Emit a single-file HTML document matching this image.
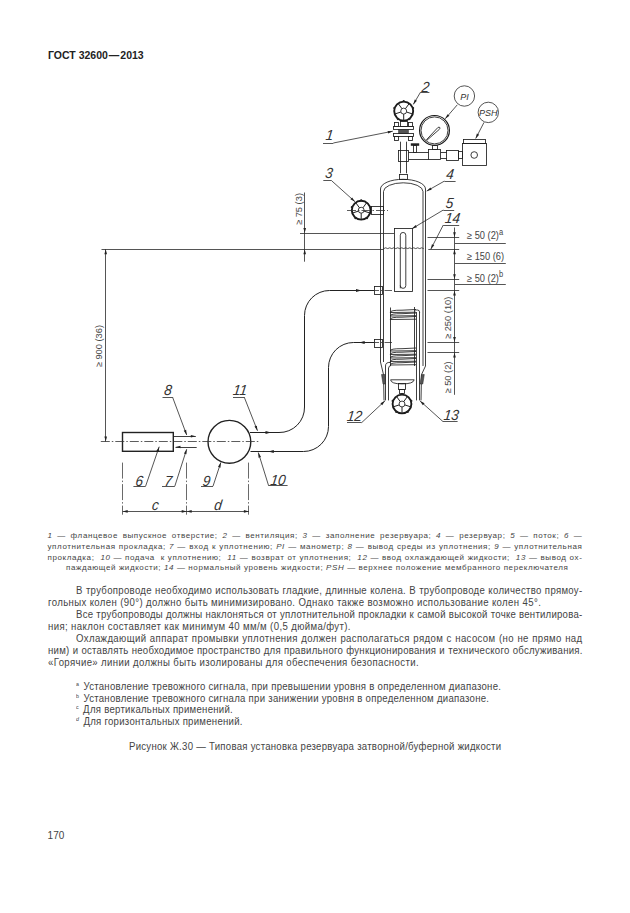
<!DOCTYPE html>
<html><head><meta charset="utf-8"><style>
html,body{margin:0;padding:0;background:#fff;}
body{width:630px;height:913px;position:relative;overflow:hidden;font-family:"Liberation Sans",sans-serif;color:#444;}
svg{position:absolute;left:0;top:0;}
.t{stroke:#2a2a2a;stroke-width:0.8;fill:none;}
.m{stroke:#1e1e1e;stroke-width:0.85;fill:none;}
.m2{stroke:#222;stroke-width:1.3;fill:none;}
.p{stroke:#222;stroke-width:1;fill:none;}
.wr{stroke:#1a1a1a;stroke-width:1.9;fill:none;}
.ws{stroke:#222;stroke-width:1.0;fill:none;}
.wr2{stroke:#1a1a1a;stroke-width:1.2;fill:none;}
.k{stroke:#222;stroke-width:1.4;fill:none;}
.f{fill:#222;stroke:none;}
.f2{fill:#555;stroke:#222;stroke-width:0.5;}
.cl{stroke:#333;stroke-width:0.8;fill:none;stroke-dasharray:9 2 1.5 2;}
.cl2{stroke:#444;stroke-width:0.8;fill:none;stroke-dasharray:16 2 1.5 2;}
.ah{fill:#222;stroke:none;}
.lb{font-family:"Liberation Sans",sans-serif;font-style:italic;font-size:13.6px;fill:#333;}
.bt{font-family:"Liberation Sans",sans-serif;font-style:italic;font-size:9px;fill:#333;}
.dt{font-family:"Liberation Sans",sans-serif;font-size:9.3px;fill:#444;}
.sup{font-size:7.5px;}
.ln{position:absolute;white-space:nowrap;}
.j{text-align:justify;text-align-last:justify;white-space:normal;}
.leg{font-size:8px;line-height:10.5px;height:10.5px;letter-spacing:0.6px;}
.bd{font-size:10px;line-height:11.9px;height:11.9px;letter-spacing:0.39px;transform:scaleX(0.96);transform-origin:0 0;}
.fn{font-size:10px;line-height:11.7px;height:11.7px;letter-spacing:0.28px;transform:scaleX(0.96);transform-origin:0 0;}
i{font-style:italic;}
sup{font-size:5.5px;vertical-align:0;position:relative;top:-4px;letter-spacing:0;margin-right:1.6px;}
</style></head><body>
<div class="ln" style="left:48px;top:49px;font-size:10.5px;font-weight:bold;color:#222;">ГОСТ 32600<span style="margin:0 1px">—</span>2013</div>
<svg width="630" height="913" viewBox="0 0 630 913">
<text transform="translate(325.3 140) skewX(-7) scale(1 1.08)" class="lb">1</text>
<line x1="323.0" y1="143.5" x2="333.3" y2="143.5" class="t"/>
<line x1="333.3" y1="143" x2="392.8" y2="131.2" class="t"/><path d="M392.80 131.20L388.15 133.45L387.64 130.90Z" class="ah"/>
<text transform="translate(421.2 91.7) skewX(-7) scale(1 1.08)" class="lb">2</text>
<line x1="420.5" y1="92.5" x2="429.4" y2="92.5" class="t"/>
<line x1="420.5" y1="92.2" x2="413.3" y2="104.4" class="t"/><path d="M413.30 104.40L414.72 99.43L416.96 100.75Z" class="ah"/>
<text transform="translate(324.8 178.3) skewX(-7) scale(1 1.08)" class="lb">3</text>
<line x1="323.3" y1="180.5" x2="331.7" y2="180.5" class="t"/>
<line x1="331.7" y1="180.8" x2="355" y2="201.7" class="t"/><path d="M355.00 201.70L350.41 199.33L352.15 197.39Z" class="ah"/>
<text transform="translate(445.8 179.2) skewX(-7) scale(1 1.08)" class="lb">4</text>
<line x1="444.4" y1="181.5" x2="455.6" y2="181.5" class="t"/>
<line x1="444.4" y1="181.1" x2="426.7" y2="191.1" class="t"/><path d="M426.70 191.10L430.41 187.51L431.69 189.77Z" class="ah"/>
<text transform="translate(445.3 207.5) skewX(-7) scale(1 1.08)" class="lb">5</text>
<line x1="443.3" y1="210.5" x2="454.2" y2="210.5" class="t"/>
<line x1="443.3" y1="210" x2="412" y2="228.7" class="t"/><path d="M412.00 228.70L415.63 225.02L416.96 227.25Z" class="ah"/>
<text transform="translate(444.5 223.3) skewX(-7) scale(1 1.08)" class="lb">14</text>
<line x1="443.3" y1="225.5" x2="459.2" y2="225.5" class="t"/>
<line x1="443.3" y1="225" x2="430.8" y2="249.2" class="t"/><path d="M430.80 249.20L431.94 244.16L434.25 245.35Z" class="ah"/>
<text transform="translate(134.9 485.5) skewX(-7) scale(1 1.08)" class="lb">6</text>
<line x1="133.4" y1="486.5" x2="145.6" y2="486.5" class="t"/>
<line x1="145.6" y1="486.2" x2="159.2" y2="446.7" class="t"/><path d="M159.20 446.70L158.80 451.85L156.34 451.00Z" class="ah"/>
<text transform="translate(164.1 485.5) skewX(-7) scale(1 1.08)" class="lb">7</text>
<line x1="162.0" y1="486.5" x2="174.8" y2="486.5" class="t"/>
<line x1="174.8" y1="486.2" x2="186.7" y2="449.2" class="t"/><path d="M186.70 449.20L186.41 454.36L183.93 453.56Z" class="ah"/>
<text transform="translate(163.7 395) skewX(-7) scale(1 1.08)" class="lb">8</text>
<line x1="162.5" y1="397.5" x2="172.5" y2="397.5" class="t"/>
<line x1="172.5" y1="397" x2="186.7" y2="435" class="t"/><path d="M186.70 435.00L183.73 430.77L186.17 429.86Z" class="ah"/>
<text transform="translate(202.2 485.5) skewX(-7) scale(1 1.08)" class="lb">9</text>
<line x1="201.0" y1="486.5" x2="213.0" y2="486.5" class="t"/>
<line x1="213.0" y1="486.2" x2="220.8" y2="462.5" class="t"/><path d="M220.80 462.50L220.47 467.66L218.00 466.84Z" class="ah"/>
<text transform="translate(270.0 484.6) skewX(-7) scale(1 1.08)" class="lb">10</text>
<line x1="268.6" y1="485.5" x2="287.6" y2="485.5" class="t"/>
<line x1="268.6" y1="485.7" x2="258.3" y2="452.5" class="t"/><path d="M258.30 452.50L261.02 456.89L258.54 457.66Z" class="ah"/>
<text transform="translate(232.5 395) skewX(-7) scale(1 1.08)" class="lb">11</text>
<line x1="233.0" y1="397.5" x2="244.2" y2="397.5" class="t"/>
<line x1="244.2" y1="397" x2="257.5" y2="430.8" class="t"/><path d="M257.50 430.80L254.46 426.62L256.88 425.67Z" class="ah"/>
<text transform="translate(346.5 421) skewX(-7) scale(1 1.08)" class="lb">12</text>
<line x1="347.0" y1="422.5" x2="361.7" y2="422.5" class="t"/>
<line x1="361.7" y1="422.6" x2="385" y2="400.8" class="t"/><path d="M385.00 400.80L382.24 405.17L380.46 403.27Z" class="ah"/>
<text transform="translate(443.3 420.1) skewX(-7) scale(1 1.08)" class="lb">13</text>
<line x1="443.0" y1="421.5" x2="457.6" y2="421.5" class="t"/>
<line x1="443.0" y1="421.6" x2="420" y2="400.9" class="t"/><path d="M420.00 400.90L424.59 403.28L422.85 405.21Z" class="ah"/>
<circle cx="464.4" cy="96" r="10.2" class="t"/>
<text x="464.4" y="99.6" class="bt" text-anchor="middle">PI</text>
<line x1="457.3" y1="104.8" x2="445.2" y2="118.8" class="t"/><path d="M445.20 118.80L447.49 114.17L449.45 115.87Z" class="ah"/>
<circle cx="488.3" cy="112.4" r="10.2" class="t"/>
<text x="488.3" y="116" class="bt" text-anchor="middle">PSH</text>
<line x1="484" y1="122.4" x2="475.7" y2="138.5" class="t"/><path d="M475.70 138.50L476.84 133.46L479.15 134.65Z" class="ah"/>
<path class="m" d="M380.5 362 L380.5 189 A22.5 9.7 0 0 1 425.5 189 L425.5 366"/>
<path class="m" d="M383.5 362 L383.5 191.5 A19.75 8.7 0 0 1 423 191.5 L423 366"/>
<path class="m" d="M380.5 362 L383.5 374.6 L384 400.4"/>
<path class="m" d="M425.5 366 L421.5 374.6 L421 400.4"/>
<rect x="399.5" y="174.5" width="8.0" height="5.0" class="m"/>
<line x1="400.5" y1="141.7" x2="400.5" y2="173.3" class="m"/>
<line x1="406.5" y1="141.7" x2="406.5" y2="173.3" class="m"/>
<rect x="398.5" y="150.5" width="10.0" height="11.0" class="m"/>
<line x1="408.5" y1="152.5" x2="428.7" y2="152.5" class="m"/>
<line x1="408.5" y1="159.5" x2="428.7" y2="159.5" class="m"/>
<rect x="428.5" y="149.5" width="12.0" height="10.0" class="m"/>
<line x1="440.8" y1="152.5" x2="446.7" y2="152.5" class="m"/>
<line x1="440.8" y1="158.5" x2="446.7" y2="158.5" class="m"/>
<rect x="446.5" y="150.5" width="12.0" height="10.0" class="m"/>
<rect x="458.5" y="151.5" width="4.0" height="7.0" class="m"/>
<rect x="410.8" y="143.3" width="8.4" height="2.5" class="f"/>
<rect x="413.5" y="145.5" width="3.0" height="7.0" class="m"/>
<rect x="462.5" y="143.5" width="24.0" height="22.0" class="m"/>
<rect x="463.5" y="139.5" width="22.0" height="4.0" class="m"/>
<circle cx="474.2" cy="155" r="3.3" class="m"/>
<circle cx="434.5" cy="130.4" r="14.9" class="wr2"/>
<circle cx="434.5" cy="130.4" r="13.5" class="m"/>
<path d="M426.4 139.8 L437.8 127.6 Q439.2 126.6 439.9 127.6 Q440.1 128.6 439.3 129.4 L426.8 140.3Z" class="m"/>
<rect x="432.5" y="145.5" width="5.0" height="4.0" class="m"/>
<rect x="393.5" y="126.5" width="20.0" height="3.0" class="m"/>
<rect x="398.6" y="129.7" width="9.8" height="3.7" class="f2"/>
<rect x="393.5" y="133.5" width="20.0" height="3.0" class="m"/>
<rect x="394.5" y="122.5" width="4.0" height="4.0" class="m"/>
<rect x="394.5" y="136.5" width="4.0" height="4.0" class="m"/>
<rect x="408.5" y="122.5" width="4.0" height="4.0" class="m"/>
<rect x="408.5" y="136.5" width="4.0" height="4.0" class="m"/>
<rect x="400.5" y="121.5" width="7.0" height="5.0" class="m"/>
<circle cx="403.7" cy="111.1" r="9.5" class="wr"/><circle cx="403.7" cy="111.1" r="2.97" class="m"/><line x1="403.7" y1="114.07" x2="403.7" y2="121.0" class="ws"/><circle cx="397.8809260023045" cy="119.10926824431198" r="1.1" class="f"/><line x1="400.8753621466034" y1="112.01778047329358" x2="394.284540488678" y2="114.15926824431197" class="ws"/><circle cx="394.284540488678" cy="108.04073175568801" r="1.1" class="f"/><line x1="401.95427780069133" y1="108.6972195267064" x2="397.8809260023045" y2="103.09073175568801" class="ws"/><circle cx="403.7" cy="101.19999999999999" r="1.1" class="f"/><line x1="405.44572219930865" y1="108.6972195267064" x2="409.51907399769544" y2="103.09073175568801" class="ws"/><circle cx="413.115459511322" cy="108.04073175568801" r="1.1" class="f"/><line x1="406.5246378533966" y1="112.01778047329358" x2="413.115459511322" y2="114.15926824431197" class="ws"/><circle cx="409.5190739976955" cy="119.10926824431198" r="1.1" class="f"/>
<circle cx="361.2" cy="210.2" r="9.4" class="wr"/><circle cx="361.2" cy="210.2" r="2.94" class="m"/><line x1="361.2" y1="213.14" x2="361.2" y2="220.0" class="ws"/><circle cx="355.43970452753376" cy="218.12836654487447" r="1.1" class="f"/><line x1="358.40389384209226" y1="211.10850996346232" x2="351.8796461403075" y2="213.22836654487446" class="ws"/><circle cx="351.8796461403075" cy="207.17163345512552" r="1.1" class="f"/><line x1="359.4719113582601" y1="207.82149003653765" x2="355.43970452753376" y2="202.2716334551255" class="ws"/><circle cx="361.2" cy="200.39999999999998" r="1.1" class="f"/><line x1="362.92808864173986" y1="207.82149003653765" x2="366.9602954724662" y2="202.2716334551255" class="ws"/><circle cx="370.5203538596925" cy="207.17163345512552" r="1.1" class="f"/><line x1="363.9961061579077" y1="211.10850996346232" x2="370.5203538596925" y2="213.22836654487446" class="ws"/><circle cx="366.9602954724662" cy="218.12836654487447" r="1.1" class="f"/>
<circle cx="402" cy="404" r="9.4" class="wr"/><circle cx="402" cy="404" r="2.94" class="m"/><line x1="402.0" y1="406.94" x2="402.0" y2="413.8" class="ws"/><circle cx="396.2397045275338" cy="411.9283665448745" r="1.1" class="f"/><line x1="399.20389384209227" y1="404.90850996346234" x2="392.6796461403075" y2="407.0283665448745" class="ws"/><circle cx="392.6796461403075" cy="400.9716334551255" r="1.1" class="f"/><line x1="400.2719113582601" y1="401.62149003653764" x2="396.2397045275338" y2="396.0716334551255" class="ws"/><circle cx="402.0" cy="394.2" r="1.1" class="f"/><line x1="403.7280886417399" y1="401.62149003653764" x2="407.7602954724662" y2="396.0716334551255" class="ws"/><circle cx="411.3203538596925" cy="400.9716334551255" r="1.1" class="f"/><line x1="404.79610615790773" y1="404.90850996346234" x2="411.3203538596925" y2="407.0283665448745" class="ws"/><circle cx="407.7602954724662" cy="411.9283665448745" r="1.1" class="f"/>
<rect x="371.5" y="206.5" width="12.0" height="8.0" class="m"/>
<line x1="347" y1="210.5" x2="388" y2="210.5" class="cl"/>
<rect x="394.5" y="228.5" width="18.0" height="63.0" class="m"/>
<path class="m" d="M400.3 288.3 L400.3 235.2 A2.75 2.75 0 0 1 405.8 235.2 L405.8 285.6 A2.75 2.75 0 0 1 400.3 285.6"/>
<path class="t" d="M383.7 248.6 q2 -1.6 4 0 q2 -1.6 4 0 q2 -1.6 4 0 q2 -1.6 4 0 q2 -1.6 4 0 q2 -1.6 4 0 q2 -1.6 4 0 q2 -1.6 4 0 q2 -1.6 4 0 q2 -1.6 4 0"/>
<rect x="374.5" y="286.5" width="8.0" height="8.0" class="m"/>
<rect x="374.5" y="339.5" width="8.0" height="8.0" class="m"/>
<line x1="370" y1="290.5" x2="392" y2="290.5" class="cl"/>
<line x1="370" y1="342.5" x2="392" y2="342.5" class="cl"/>
<line x1="390.5" y1="307.5" x2="390.5" y2="366" class="m"/>
<line x1="414.5" y1="307" x2="414.5" y2="366" class="m"/>
<line x1="416.5" y1="312" x2="416.5" y2="400.4" class="m"/>
<line x1="419.5" y1="312" x2="419.5" y2="400.4" class="m"/>
<path class="m" d="M414.5 310 L417.5 310 Q419.7 310 419.7 312.5"/>
<path class="m" d="M390.3 312.5 Q390 310 402 310.2 L416 309.5 M390.3 312.5 L416 312.2"/>
<path class="m" d="M390.3 316.0 Q390 313.5 402 313.7 L416 313.0 M390.3 316.0 L416 315.7"/>
<path class="m" d="M390.3 319.5 Q390 317 402 317.2 L416 316.5 M390.3 319.5 L416 319.2"/>
<path class="m" d="M390.3 351.0 Q390 348.5 402 348.7 L416 348.0 M390.3 351.0 L416 350.7"/>
<path class="m" d="M390.3 354.5 Q390 352 402 352.2 L416 351.5 M390.3 354.5 L416 354.2"/>
<path class="m" d="M390.3 358.0 Q390 355.5 402 355.7 L416 355.0 M390.3 358.0 L416 357.7"/>
<path class="m" d="M390.3 361.5 Q390 359 402 359.2 L416 358.5 M390.3 361.5 L416 361.2"/>
<path class="m" d="M390.3 365.0 Q390 362.5 402 362.7 L416 362.0 M390.3 365.0 L416 364.7"/>
<line x1="385.5" y1="366" x2="385.5" y2="400.4" class="m"/>
<line x1="388.5" y1="368" x2="388.5" y2="400.4" class="m"/>
<path class="m" d="M385.5 366 Q385.5 362 390.3 362.5 M388.6 368 Q389 365.5 391 365.5"/>
<path class="m" d="M390.6 379.8 L414.2 379.8 M390.6 379.8 Q391 383.9 402 383.9 Q413.5 383.9 414.2 379.8"/>
<rect x="398.5" y="383.5" width="7.0" height="6.0" class="m"/>
<rect x="399.5" y="389.5" width="5.0" height="4.0" class="m"/>
<path class="f2" d="M381.5 374.5 L385.5 374.5 L385.5 384 L383 384Z"/>
<path class="f2" d="M421.5 374.5 L424.3 374.5 L422.8 384 L420 384Z"/>
<path class="p" d="M250 432.5 L279 432.5 A25 25 0 0 0 304.5 407 L304.5 315.5 A25 25 0 0 1 329.5 290.5 L374.2 290.5"/>
<path d="M361.50 290.50L356.00 292.10L356.00 288.90Z" class="ah"/>
<path d="M271.00 432.50L265.50 434.10L265.50 430.90Z" class="ah"/>
<path class="p" d="M374.2 342.5 L353.5 342.5 A25 25 0 0 0 328.5 367.5 L328.5 426.5 A25 25 0 0 1 303.5 451.5 L250.5 451.5"/>
<path d="M359.20 342.50L364.70 340.90L364.70 344.10Z" class="ah"/>
<path d="M268.30 451.50L273.80 449.90L273.80 453.10Z" class="ah"/>
<circle cx="229.4" cy="441.8" r="21.4" class="k"/>
<rect x="122.5" y="432.5" width="50.8" height="18.8" class="k"/>
<line x1="100.8" y1="441.5" x2="258.5" y2="441.5" class="cl"/>
<line x1="173.3" y1="436.5" x2="195.8" y2="436.5" class="m"/>
<path d="M195.80 436.30L190.80 437.60L190.80 435.00Z" class="ah"/>
<line x1="175.5" y1="447.5" x2="196.7" y2="447.5" class="m"/>
<path d="M175.50 447.00L180.50 445.70L180.50 448.30Z" class="ah"/>
<line x1="250.5" y1="432.5" x2="250.5" y2="432.5" class="m"/>
<line x1="304.5" y1="192.5" x2="304.5" y2="261.7" class="t"/>
<path d="M304.70 233.00L303.40 228.00L306.00 228.00Z" class="ah"/>
<path d="M304.70 249.20L306.00 254.20L303.40 254.20Z" class="ah"/>
<line x1="300" y1="233.5" x2="394.2" y2="233.5" class="t"/>
<line x1="101.5" y1="249.5" x2="383.7" y2="249.5" class="t"/>
<line x1="428.3" y1="249.5" x2="459.2" y2="249.5" class="t"/>
<text class="dt" transform="translate(301.6 225) rotate(-90) scale(1 1.0)">≥ 75 (3)</text>
<line x1="105.5" y1="249.2" x2="105.5" y2="441.5" class="t"/>
<path d="M105.70 249.20L107.00 254.20L104.40 254.20Z" class="ah"/>
<path d="M105.70 441.50L104.40 436.50L107.00 436.50Z" class="ah"/>
<text class="dt" transform="translate(101.8 367.3) rotate(-90) scale(1 1.0)">≥ 900 (36)</text>
<line x1="454.5" y1="227.5" x2="454.5" y2="394.8" class="t"/>
<line x1="427.5" y1="237.5" x2="459.2" y2="237.5" class="t"/>
<line x1="427.5" y1="279.5" x2="459.2" y2="279.5" class="t"/>
<line x1="427.5" y1="290.5" x2="459.2" y2="290.5" class="t"/>
<line x1="427.5" y1="342.5" x2="459.2" y2="342.5" class="t"/>
<line x1="427.5" y1="352.5" x2="459.2" y2="352.5" class="t"/>
<path d="M454.50 237.20L453.20 232.20L455.80 232.20Z" class="ah"/>
<path d="M454.50 249.20L455.80 254.20L453.20 254.20Z" class="ah"/>
<path d="M454.50 279.20L453.20 274.20L455.80 274.20Z" class="ah"/>
<path d="M454.50 290.50L455.80 295.50L453.20 295.50Z" class="ah"/>
<path d="M454.50 342.10L453.20 337.10L455.80 337.10Z" class="ah"/>
<path d="M454.50 352.50L455.80 357.50L453.20 357.50Z" class="ah"/>
<line x1="455" y1="243.5" x2="505.8" y2="243.5" class="t"/>
<line x1="455" y1="263.5" x2="505.8" y2="263.5" class="t"/>
<line x1="455" y1="284.5" x2="505.8" y2="284.5" class="t"/>
<text class="dt" transform="translate(467 239) scale(1 1.12)">≥ 50 (2)<tspan class="sup" dy="-3.8">a</tspan></text>
<text class="dt" transform="translate(467 260) scale(1 1.12)">≥ 150 (6)</text>
<text class="dt" transform="translate(467 281.5) scale(1 1.12)">≥ 50 (2)<tspan class="sup" dy="-3.8">b</tspan></text>
<text class="dt" transform="translate(451 339) rotate(-90) scale(1 1.0)">≥ 250 (10)</text>
<text class="dt" transform="translate(451 393.5) rotate(-90) scale(1 1.0)">≥ 50 (2)</text>
<line x1="122.5" y1="462.6" x2="122.5" y2="514.7" class="cl2"/>
<line x1="186.5" y1="462.6" x2="186.5" y2="514.7" class="cl2"/>
<line x1="248.5" y1="462.6" x2="248.5" y2="514.7" class="cl2"/>
<line x1="122.7" y1="511.5" x2="248.9" y2="511.5" class="t"/>
<path d="M122.70 511.40L127.70 510.10L127.70 512.70Z" class="ah"/>
<path d="M186.70 511.40L181.70 512.70L181.70 510.10Z" class="ah"/>
<path d="M186.70 511.40L191.70 510.10L191.70 512.70Z" class="ah"/>
<path d="M248.90 511.40L243.90 512.70L243.90 510.10Z" class="ah"/>
<text class="lb" transform="translate(151.5 509.6) skewX(-7) scale(1 1.08)">c</text>
<text class="lb" transform="translate(213.8 509.6) skewX(-7) scale(1 1.08)">d</text>
</svg>
<div class="ln j leg" style="left:47.5px;width:534.90px;top:531px;letter-spacing:0.6px;"><i>1</i> — фланцевое выпускное отверстие; <i>2</i> — вентиляция; <i>3</i> — заполнение резервуара; <i>4</i> — резервуар; <i>5</i> — поток; <i>6</i> —</div>
<div class="ln j leg" style="left:47.5px;width:534.90px;top:541.5px;letter-spacing:0.6px;">уплотнительная прокладка; <i>7</i> — вход к уплотнению; <i>PI</i> — манометр; <i>8</i> — вывод среды из уплотнения; <i>9</i> — уплотнительная</div>
<div class="ln j leg" style="left:47.5px;width:534.90px;top:552.6px;letter-spacing:0.6px;">прокладка; &nbsp;<i>10</i> — подача &nbsp;к уплотнению; &nbsp;<i>11</i> — возврат от уплотнения; &nbsp;<i>12</i> — ввод охлаждающей жидкости; &nbsp;<i>13</i> — вывод ох-</div>
<div class="ln leg" style="left:66px;top:563.1px;">паждающей жидкости; <i>14</i> — нормальный уровень жидкости; <i>PSH</i> — верхнее положение мембранного переключателя</div>
<div class="ln j bd" style="left:75.8px;width:527.60px;top:585px;letter-spacing:0.32px;">В трубопроводе необходимо использовать гладкие, длинные колена. В трубопроводе количество прямоу-</div>
<div class="ln bd" style="left:47.5px;top:597px;">гольных колен (90°) должно быть минимизировано. Однако также возможно использование колен 45°.</div>
<div class="ln j bd" style="left:75.8px;width:527.52px;top:609px;letter-spacing:0.24px;">Все трубопроводы должны наклоняться от уплотнительной прокладки к самой высокой точке вентилирова-</div>
<div class="ln bd" style="left:47.5px;top:621px;">ния; наклон составляет как минимум 40 мм/м (0,5 дюйма/фут).</div>
<div class="ln j bd" style="left:75.8px;width:527.67px;top:633px;letter-spacing:0.39px;">Охлаждающий аппарат промывки уплотнения должен располагаться рядом с насосом (но не прямо над</div>
<div class="ln j bd" style="left:47.5px;width:557.03px;top:645px;letter-spacing:0.27px;">ним) и оставлять необходимое пространство для правильного функционирования и технического обслуживания.</div>
<div class="ln bd" style="left:47.5px;top:657px;">«Горячие» линии должны быть изолированы для обеспечения безопасности.</div>
<div class="ln fn" style="left:76px;top:681px;"><sup>a</sup> Установление тревожного сигнала, при превышении уровня в определенном диапазоне.</div>
<div class="ln fn" style="left:76px;top:692.7px;"><sup>b</sup> Установление тревожного сигнала при занижении уровня в определенном диапазоне.</div>
<div class="ln fn" style="left:76px;top:704.4px;"><sup>c</sup> Для вертикальных применений.</div>
<div class="ln fn" style="left:76px;top:716.1px;"><sup><i>d</i></sup> Для горизонтальных применений.</div>
<div class="ln bd" style="left:128.7px;top:741px;letter-spacing:0.275px;">Рисунок Ж.30 — Типовая установка резервуара затворной/буферной жидкости</div>
<div class="ln" style="left:47.6px;top:830px;font-size:10px;">170</div>
</body></html>
